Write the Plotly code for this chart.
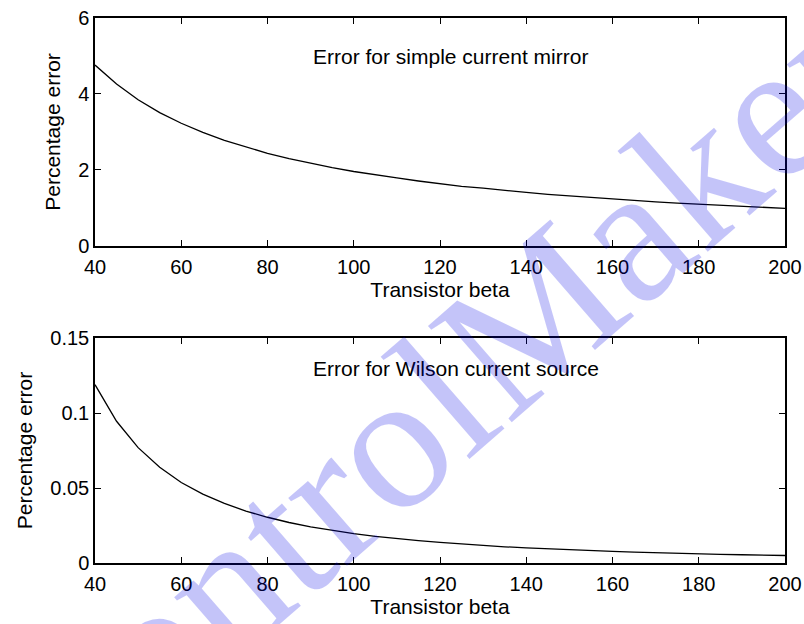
import plotly.graph_objects as go
from plotly.subplots import make_subplots

beta = [40, 45, 50, 55, 60, 65, 70, 75, 80, 85, 90, 95, 100, 105, 110, 115, 120,
        125, 130, 135, 140, 145, 150, 155, 160, 165, 170, 175, 180, 185, 190, 195, 200]
err_simple = [4.76, 4.26, 3.85, 3.51, 3.23, 2.99, 2.78, 2.60, 2.44, 2.30, 2.17, 2.06, 1.96,
              1.87, 1.79, 1.71, 1.64, 1.57, 1.52, 1.46, 1.41, 1.36, 1.32, 1.27, 1.23,
              1.20, 1.16, 1.13, 1.10, 1.07, 1.04, 1.02, 0.99]
err_wilson = [0.1189, 0.0945, 0.0769, 0.0638, 0.0537, 0.0459, 0.0397, 0.0346, 0.0305,
              0.0270, 0.0241, 0.0217, 0.0196, 0.0178, 0.0162, 0.0149, 0.0137, 0.0126,
              0.0117, 0.0108, 0.0101, 0.0094, 0.0088, 0.0082, 0.0077, 0.0073, 0.0068,
              0.0065, 0.0061, 0.0058, 0.0055, 0.0052, 0.0050]
x_ticks = [40, 60, 80, 100, 120, 140, 160, 180, 200]
y1_ticks = [0, 2, 4, 6]
y2_ticks = [0, 0.05, 0.1, 0.15]
y2_ticklabels = ["0", "0.05", "0.1", "0.15"]

FONT = "Liberation Sans, Arial, sans-serif"

fig = make_subplots(rows=2, cols=1, vertical_spacing=0.0)
fig.add_trace(go.Scatter(x=beta, y=err_simple, mode="lines",
                         line=dict(color="black", width=1.3), showlegend=False), row=1, col=1)
fig.add_trace(go.Scatter(x=beta, y=err_wilson, mode="lines",
                         line=dict(color="black", width=1.3), showlegend=False), row=2, col=1)

axis_common = dict(showline=True, linecolor="black", linewidth=1.5, mirror="ticks",
                   ticks="inside", ticklen=6, tickwidth=1.3, tickcolor="black",
                   showgrid=False, zeroline=False, automargin=False,
                   ticklabeloverflow="allow",
                   tickfont=dict(family=FONT, size=20, color="black"))

fig.update_xaxes(range=[40, 200], tickvals=x_ticks, ticklabelstandoff=2,
                 title=dict(text="Transistor beta", font=dict(family=FONT, size=21, color="black"), standoff=3),
                 **axis_common)
fig.update_yaxes(range=[0, 6], tickvals=y1_ticks, ticklabelstandoff=0,
                 title=dict(text="Percentage error", font=dict(family=FONT, size=21, color="black"), standoff=12),
                 row=1, col=1, **axis_common)
fig.update_yaxes(range=[0, 0.15], tickvals=y2_ticks, ticktext=y2_ticklabels, ticklabelstandoff=0,
                 title=dict(text="Percentage error", font=dict(family=FONT, size=21, color="black"), standoff=12),
                 row=2, col=1, **axis_common)

fig.update_layout(
    width=804, height=624,
    margin=dict(l=95, r=19, t=18, b=61),
    paper_bgcolor="white", plot_bgcolor="white",
    xaxis=dict(domain=[0, 1]), yaxis=dict(domain=[0.5817, 1]),
    xaxis2=dict(domain=[0, 1]), yaxis2=dict(domain=[0, 0.4128]),
)

fig.add_annotation(x=90, y=5, xref="x", yref="y", text="Error for simple current mirror",
                   showarrow=False, xanchor="left", yanchor="middle",
                   font=dict(family=FONT, size=21, color="black"))
fig.add_annotation(x=90, y=0.13, xref="x2", yref="y2", text="Error for Wilson current source",
                   showarrow=False, xanchor="left", yanchor="middle",
                   font=dict(family=FONT, size=21, color="black"))

# watermark
fig.add_annotation(x=0.487, y=0.29, xref="paper", yref="paper", text="ControlMaker",
                   showarrow=False, textangle=-41, xanchor="center", yanchor="middle",
                   font=dict(family="Liberation Serif, Times New Roman, serif", size=195,
                             color="rgba(0,0,230,0.23)"))

fig.write_html("out.html", config={"displayModeBar": False},
               post_script="document.body.style.margin='0';document.body.style.overflow='hidden';")
